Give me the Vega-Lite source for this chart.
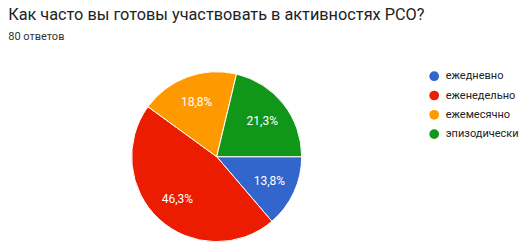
{
  "$schema": "https://vega.github.io/schema/vega-lite/v6.json",
  "autosize": {"type": "none"},
  "width": 170,
  "height": 170,
  "padding": {"left": 131.7, "top": 71.7, "right": 222.3, "bottom": 8.3},
  "background": "#ffffff",
  "config": {
    "view": {"stroke": null},
    "font": "Roboto",
    "locale": {"number": {"decimal": ",", "thousands": " ", "grouping": [3], "currency": ["", " ₽"]}}
  },
  "title": {
    "text": "Как часто вы готовы участвовать в активностях РСО?",
    "subtitle": "80 ответов",
    "anchor": "start",
    "frame": "group",
    "dx": -123.5,
    "offset": 28,
    "font": "Roboto",
    "fontSize": 16.3,
    "fontWeight": "normal",
    "color": "#202124",
    "subtitleFont": "Roboto",
    "subtitleFontSize": 11,
    "subtitleColor": "#333333",
    "subtitlePadding": 7
  },
  "data": {
    "values": [
      {"answer": "ежедневно", "order": 1, "count": 11, "share": 0.138},
      {"answer": "еженедельно", "order": 2, "count": 37, "share": 0.463},
      {"answer": "ежемесячно", "order": 3, "count": 15, "share": 0.188},
      {"answer": "эпизодически", "order": 4, "count": 17, "share": 0.213}
    ]
  },
  "encoding": {
    "theta": {"field": "count", "type": "quantitative", "stack": true, "scale": {"range": [1.5707963, 7.8539816]}},
    "order": {"field": "order", "type": "quantitative", "sort": "ascending"},
    "color": {
      "field": "answer",
      "type": "nominal",
      "scale": {
        "domain": ["ежедневно", "еженедельно", "ежемесячно", "эпизодически"],
        "range": ["#3366cc", "#ec1c00", "#ff9900", "#109618"]
      },
      "legend": {
        "title": null,
        "orient": "none",
        "legendX": 297,
        "legendY": -1,
        "symbolType": "circle",
        "symbolSize": 95,
        "symbolStrokeWidth": 0,
        "labelFont": "Roboto",
        "labelFontSize": 11,
        "labelColor": "#222222",
        "labelOffset": 6,
        "rowPadding": 7.3,
        "padding": 0
      }
    }
  },
  "layer": [
    {"mark": {"type": "arc", "outerRadius": 85, "stroke": "#ffffff", "strokeWidth": 1}},
    {
      "mark": {"type": "text", "radius": 58, "fontSize": 12, "font": "Roboto", "fill": "#ffffff"},
      "encoding": {
        "text": {"field": "share", "type": "quantitative", "format": ".1%"},
        "color": {"value": "#ffffff"}
      }
    }
  ]
}
